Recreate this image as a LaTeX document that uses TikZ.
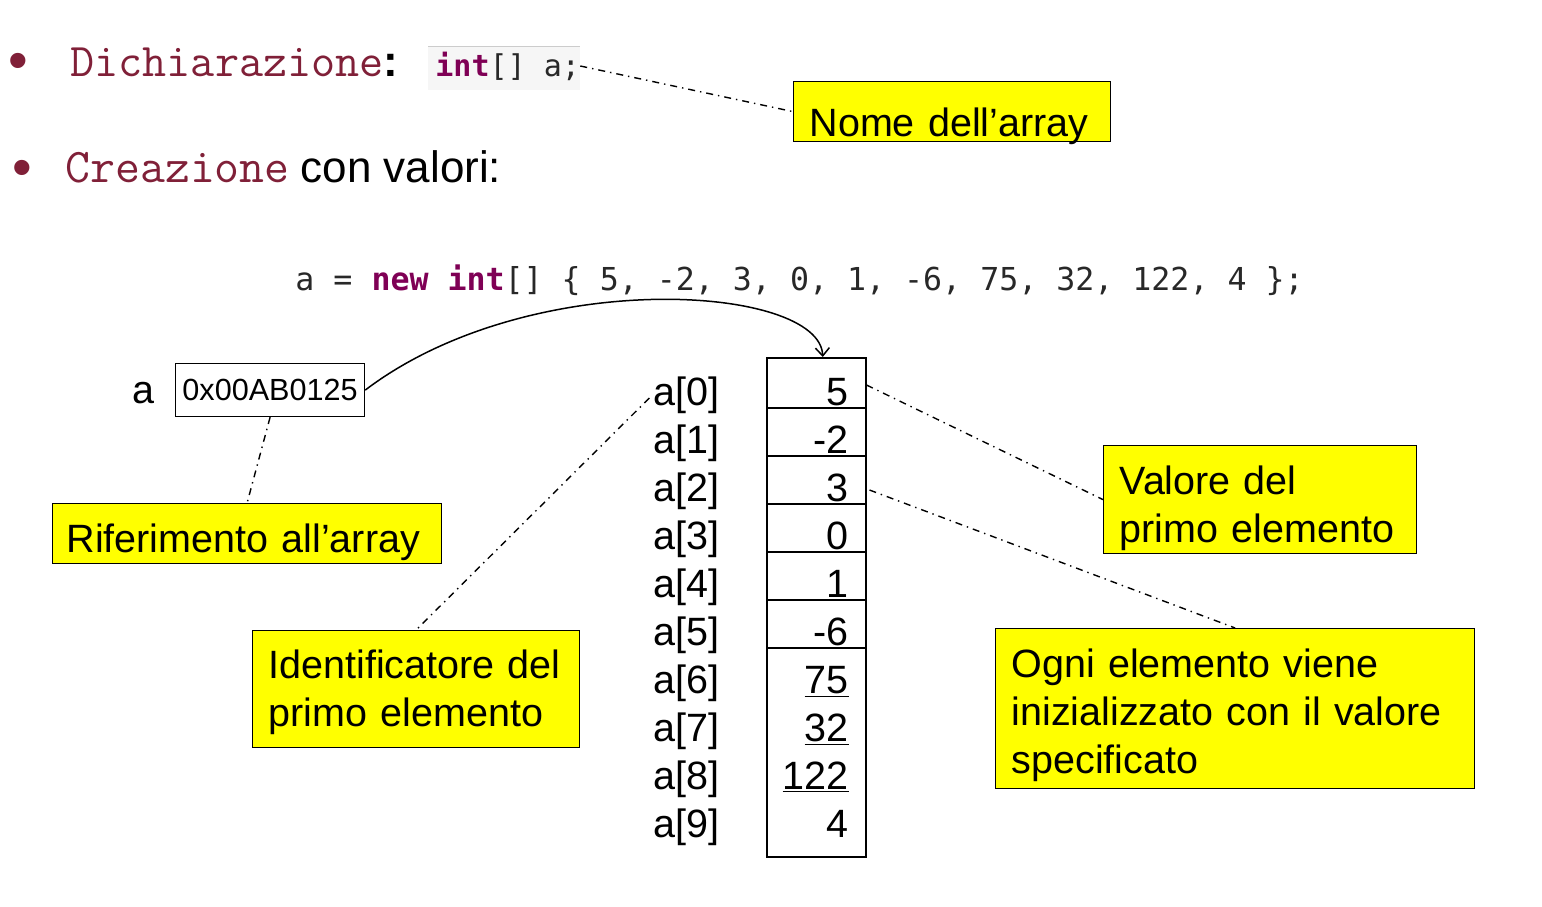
\documentclass[tikz,border=0pt]{standalone}
\usepackage{fontspec}
\setmainfont{Liberation Sans}
\newfontfamily\codefont{DejaVu Sans Mono}
\usepackage{xcolor}
\usetikzlibrary{arrows.meta}
\definecolor{titlered}{RGB}{128,32,56}
\definecolor{kwpurple}{RGB}{127,0,85}
\definecolor{codegray}{RGB}{40,40,40}
\definecolor{callyellow}{RGB}{255,255,0}
\tikzset{
  callout/.style={draw=black,line width=0.6pt,fill=callyellow,anchor=north west,align=left,
    inner xsep=8pt,inner ysep=0pt,font=\fontsize{19.75}{24}\selectfont},
  conn/.style={line width=0.7pt,dash pattern=on 3.5pt off 2.5pt on 0.7pt off 2.5pt},
  plain/.style={inner sep=0pt,font=\fontsize{19.75}{24}\selectfont}
}

\begin{document}
\begin{tikzpicture}[x=0.5pt,y=-0.5pt]
\useasboundingbox (0,0) rectangle (1542,906);
%\draw[help lines,step=100](0,0)grid(1542,906);

% bullets
\node[plain,text=titlered,font=\fontsize{28}{30}\selectfont] (b1) at (18,66) {\textbullet};
\node[plain,text=titlered,font=\fontsize{28}{30}\selectfont] (b2) at (22,173) {\textbullet};
\node[plain,anchor=west] (decl) at (70,62) {{\fontsize{23.4}{26}\ttfamily\color{titlered}Dichiarazione}{\fontsize{22}{26}\selectfont\bfseries:}};
\node[plain,anchor=west] (crea) at (65,167) {{\fontsize{24.2}{26}\ttfamily\color{titlered}Creazione} {\fontsize{22}{26}\selectfont con valori:}};

% codice
\fill[gray!7] (428,46) rectangle (580,90);
\draw[gray!40] (428,46) -- (580,46);
\node[plain,anchor=west,text=codegray] (decl code) at (435,66) {\codefont\fontsize{15}{18}\selectfont{\color{kwpurple}\bfseries int}[] a;};
\node[plain,anchor=west,text=codegray] (new code) at (295,280) {\codefont\fontsize{15.8}{18}\selectfont a = {\color{kwpurple}\bfseries new int}[] \{ 5, -2, 3, 0, 1, -6, 75, 32, 122, 4 \};};

% riferimento
\node[plain] (aname) at (143,393) {a};
\node[draw,line width=0.6pt,inner sep=0pt,minimum width=94.5pt,minimum height=26.5pt,anchor=north west,font=\fontsize{15.3}{18}\selectfont] (ptr) at (175,363) {0x00AB0125};

% array
\node[draw,line width=0.75pt,inner sep=0pt,minimum width=49.5pt,minimum height=249.5pt,anchor=north west] (arr) at (766,357) {};
\foreach \v [count=\i from 0] in {5,-2,3,0,1,-6,\underline{75},\underline{32},\underline{122},4}{
  \node[plain,anchor=base east] (idx\i) at (720,405+48*\i) {a[\i]};
  \node[plain,anchor=base east] (val\i) at (849,405+48*\i) {\v};
}
\foreach \i in {0,...,5}
  \draw[line width=0.75pt] ([yshift=-1.5pt]arr.west |- val\i.base) -- ([yshift=-1.5pt]arr.east |- val\i.base);

% note
\node[callout,text width=142.5pt,text height=27.5pt,text depth=2.5pt] (nome) at (793,81) {Nome dell’array};
\node[callout,text width=180.5pt,text height=24.5pt,text depth=5.5pt,inner xsep=7pt] (rif) at (52,503) {Riferimento all’array};
\node[callout,text width=147.5pt,text height=24pt,text depth=34.5pt] (ident) at (252,630) {Identificatore del\\primo elemento};
\node[callout,text width=140.5pt,text height=24.5pt,text depth=29.5pt] (valore) at (1103,445) {Valore del\\primo elemento};
\node[callout,text width=223.5pt,text height=24.5pt,text depth=55.5pt] (ogni) at (995,628) {Ogni elemento viene\\inizializzato con il valore\\specificato};

% collegamenti
\draw[conn] (decl code.east) -- (nome.west);
\draw[line width=0.75pt,-{Straight Barb[length=4pt,width=7pt]}] (ptr.east) .. controls (530,265) and (820,285) .. ([xshift=3.25pt]arr.north);
\draw[conn] (ptr.south) -- (rif.north);
\draw[conn] ([xshift=-2pt]idx0.west |- 0,398) -- (ident.north);
\draw[conn] (arr.east |- 0,385) -- (valore.west);
\draw[conn] ([xshift=1.5pt]arr.east |- 0,490) -- (ogni.north);

\end{tikzpicture}
\end{document}
